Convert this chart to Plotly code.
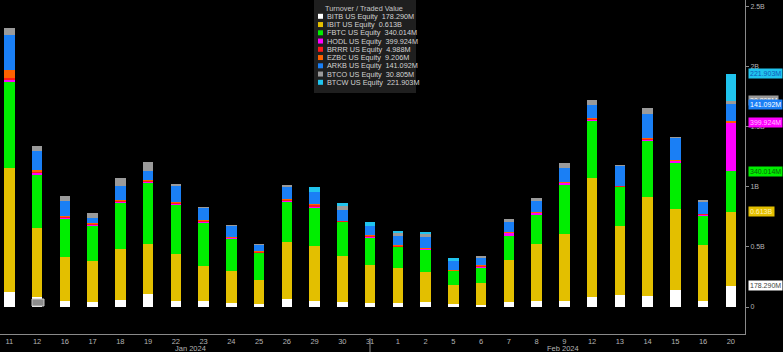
import plotly.graph_objects as go
import numpy as np

# ---------------- DATA ----------------
dates = ["2024-01-11", "2024-01-12", "2024-01-16", "2024-01-17", "2024-01-18", "2024-01-19",
         "2024-01-22", "2024-01-23", "2024-01-24", "2024-01-25", "2024-01-26", "2024-01-29",
         "2024-01-30", "2024-01-31", "2024-02-01", "2024-02-02", "2024-02-05", "2024-02-06",
         "2024-02-07", "2024-02-08", "2024-02-09", "2024-02-12", "2024-02-13", "2024-02-14",
         "2024-02-15", "2024-02-16", "2024-02-20"]
day_labels = ["11", "12", "16", "17", "18", "19", "22", "23", "24", "25", "26", "29", "30", "31",
              "1", "2", "5", "6", "7", "8", "9", "12", "13", "14", "15", "16", "20"]
month_labels = ["Jan 2024", "Feb 2024"]

# turnover in millions USD
BITB = [127, 81, 50, 44, 61, 105, 50, 50, 36, 27, 64, 50, 39, 31, 31, 39, 25, 17, 44, 50, 52,
        86, 100, 94, 141, 47, 178.290]
IBIT = [1029, 578, 363, 335, 424, 418, 388, 293, 263, 197, 478, 457, 385, 318, 291, 249, 158, 180,
        346, 471, 554, 988, 576, 822, 678, 468, 613]
FBTC = [720, 446, 324, 296, 381, 509, 415, 363, 271, 227, 332, 321, 285, 233, 179, 188, 119, 133,
        199, 252, 415, 479, 324, 468, 382, 243, 340.014]
HODL = [20, 10, 8, 8, 8, 8, 8, 6, 5, 5, 8, 12, 4, 8, 6, 8, 3, 9, 28, 12, 12, 10, 5, 12, 14, 12,
        399.924]
BRRR = [11, 15, 8, 9, 10, 10, 10, 8, 6, 6, 10, 10, 3, 6, 6, 6, 2, 5, 5, 5, 5, 5, 2, 5, 6, 5, 4.988]
EZBC = [66, 8, 3, 3, 4, 4, 4, 3, 2, 3, 4, 3, 1, 3, 2, 3, 1, 3, 3, 2, 2, 2, 1, 2, 2, 2, 9.206]
ARKB = [293, 158, 130, 47, 116, 75, 139, 105, 91, 52, 100, 105, 91, 77, 77, 86, 75, 66, 80, 91,
        120, 110, 166, 199, 183, 102, 141.092]
BTCO = [56, 47, 36, 42, 72, 75, 8, 3, 4, 4, 19, 0, 33, 0, 20, 25, 0, 13, 31, 20, 42, 45, 6, 56,
        8, 3, 30.805]
BTCW = [0, 0, 0, 0, 0, 0, 0, 0, 0, 0, 0, 37, 25, 28, 22, 19, 22, 0, 0, 0, 0, 0, 0, 0, 0, 0, 221.903]

series_names = ["BITB US Equity", "IBIT US Equity", "FBTC US Equity", "HODL US Equity",
                "BRRR US Equity", "EZBC US Equity", "ARKB US Equity", "BTCO US Equity",
                "BTCW US Equity"]
series_values = [BITB, IBIT, FBTC, HODL, BRRR, EZBC, ARKB, BTCO, BTCW]
last_labels = ["178.290M", "0.613B", "340.014M", "399.924M", "4.988M", "9.206M", "141.092M",
               "30.805M", "221.903M"]
legend_title = "Turnover / Traded Value"

y_tickvals = [0, 500, 1000, 1500, 2000, 2500]
y_ticktext = ["0", "0.5B", "1B", "1.5B", "2B", "2.5B"]

# ---------------- STYLE ----------------
colors = ["#ffffff", "#e3bf00", "#00ee00", "#ff00ff", "#ff1a1a", "#ff6200", "#1a7ff5",
          "#9a9a9a", "#20c4ee"]
tag_text_colors = ["#444444", "#fff2b8", "#0a600a", "#ffc0ff", "#ffffff", "#ffffff", "#ffffff",
                   "#ffffff", "#1058b8"]
show_tag = [True, True, True, True, False, False, True, True, True]
tag_order = [0, 1, 2, 7, 3, 6, 8]

W, H = 783, 352
ML, MR, MT, MB = 0, 38, 0, 18
PW, PH = W - ML - MR, H - MT - MB


def px_x(px):
    return (px - ML) / PW


def px_y(py):
    return 1 - (py - MT) / PH


FONT = "Liberation Sans, Arial, sans-serif"

fig = go.Figure()
for name, vals, col in zip(series_names, series_values, colors):
    fig.add_trace(go.Bar(x=dates, y=vals, name=name, marker=dict(color=col, line=dict(width=0)),
                         showlegend=False))

fig.update_layout(
    barmode="stack", bargap=0.62,
    width=W, height=H,
    margin=dict(l=ML, r=MR, t=MT, b=MB, pad=0, autoexpand=False),
    paper_bgcolor="#000000", plot_bgcolor="#000000",
    font=dict(family=FONT, color="#b4b4b4", size=7),
    xaxis=dict(type="category", range=[-0.335, 26.51], tickvals=dates, ticktext=day_labels,
               showgrid=False, zeroline=False, showline=True, linecolor="#8a8a8a", linewidth=1,
               ticks="", tickfont=dict(size=7.5, color="#b4b4b4"), ticklabelstandoff=0),
    yaxis=dict(side="right", range=[-224.6, 2554], tickvals=y_tickvals, ticktext=y_ticktext,
               showgrid=False, zeroline=False, showline=True, linecolor="#8a8a8a", linewidth=1,
               ticks="outside", ticklen=3, tickcolor="#8a8a8a",
               tickfont=dict(size=7, color="#b4b4b4")),
)

annotations = []
shapes = []

# month labels
month_centers = [190, 563]
for lab, cx in zip(month_labels, month_centers):
    annotations.append(dict(xref="paper", yref="paper", x=px_x(cx), y=px_y(348.5), text=lab,
                            showarrow=False, xanchor="center", yanchor="middle",
                            font=dict(size=7.5, color="#b4b4b4")))
# month separator tick
shapes.append(dict(type="line", xref="paper", yref="paper", x0=px_x(370), x1=px_x(370),
                   y0=px_y(338), y1=px_y(352), line=dict(color="#8a8a8a", width=1)))

# small annotation marker near Jan 12 bar
shapes.append(dict(type="rect", xref="paper", yref="paper", x0=px_x(32), x1=px_x(44),
                   y0=px_y(306), y1=px_y(299), fillcolor="#8c8c8c",
                   line=dict(color="#c8c8c8", width=1)))

# legend box
shapes.append(dict(type="rect", xref="paper", yref="paper", x0=px_x(314), x1=px_x(416),
                   y0=px_y(93), y1=px_y(0), fillcolor="rgba(34,34,34,0.92)", line=dict(width=0),
                   layer="above"))
annotations.append(dict(xref="paper", yref="paper", x=px_x(364), y=px_y(8.5), text=legend_title,
                        showarrow=False, xanchor="center", yanchor="middle",
                        font=dict(size=7.3, color="#c8c8c8")))
for i, (name, lab, col) in enumerate(zip(series_names, last_labels, colors)):
    yc = 16.3 + 8.25 * i
    shapes.append(dict(type="rect", xref="paper", yref="paper", x0=px_x(318), x1=px_x(323),
                       y0=px_y(yc + 2.5), y1=px_y(yc - 2.5), fillcolor=col, line=dict(width=0),
                       layer="above"))
    annotations.append(dict(xref="paper", yref="paper", x=px_x(325), y=px_y(yc),
                            text=f"{name}  {lab}", showarrow=False, xanchor="left",
                            yanchor="middle", font=dict(size=7.3, color="#d2d2d2")))

# right-side value tags at cumulative tops of last bar
last_vals = [v[-1] for v in series_values]
cum = np.cumsum(last_vals)
for i in tag_order:
    if not show_tag[i]:
        continue
    annotations.append(dict(xref="paper", yref="y", x=1 + 3 / PW, y=float(cum[i]),
                            text=last_labels[i], showarrow=False, xanchor="left",
                            yanchor="middle", bgcolor=colors[i], borderpad=1,
                            font=dict(size=7, color=tag_text_colors[i])))

fig.update_layout(annotations=annotations, shapes=shapes)
fig.write_html("out.html")
